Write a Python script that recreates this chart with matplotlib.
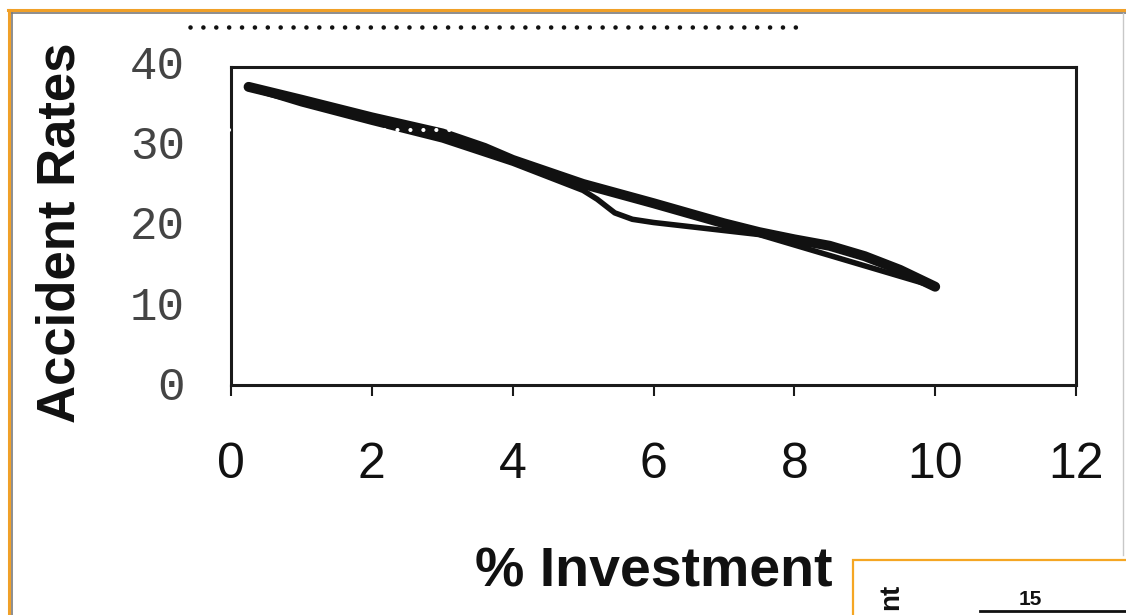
import matplotlib
matplotlib.use("Agg")
import matplotlib.pyplot as plt
from matplotlib.lines import Line2D
from matplotlib.patches import Rectangle

# values
invest_a = [0.25, 1.0, 2.0, 3.0, 3.6, 4.0, 5.0, 6.0, 7.0, 7.5, 8.0, 8.5, 9.0, 9.5, 10.0]
rates_a = [36.9, 35.3, 33.1, 31.1, 29.3, 27.8, 24.8, 22.4, 19.9, 18.8, 17.9, 17.1, 15.8, 14.1, 12.0]

invest_b = [0.25, 1.0, 2.0, 3.0, 4.0, 5.0, 5.2, 5.45, 5.7, 6.0, 6.8, 7.5, 8.0, 8.5, 9.0, 9.5, 10.0]
rates_b = [36.8, 34.8, 32.5, 30.3, 27.4, 24.0, 22.9, 21.2, 20.4, 20.0, 19.2, 18.5, 17.2, 15.9, 14.6, 13.3, 12.0]

x_ticks = [0, 2, 4, 6, 8, 10, 12]
y_ticks = [0, 10, 20, 30, 40]

W, H = 1126, 615
fig = plt.figure(figsize=(W / 100, H / 100), dpi=100)
fig.patch.set_facecolor("white")

ax = fig.add_axes([231 / W, (H - 385) / H, 845 / W, 323 / H])
ax.plot(invest_a, rates_a, color="#111111", lw=7.2, solid_capstyle="round", solid_joinstyle="round")
ax.plot(invest_b, rates_b, color="#111111", lw=4.0, solid_capstyle="round", solid_joinstyle="round")

ax.set_xlim(0, 12)
ax.set_ylim(-0.25, 40)
ax.set_xticks(x_ticks)
ax.set_yticks(y_ticks)

for side in ["left", "right", "top", "bottom"]:
    ax.spines[side].set_linewidth(2.2)
    ax.spines[side].set_color("#1a1a1a")
ax.spines["top"].set_position(("data", 39.4))
ax.spines["left"].set_bounds(-0.25, 39.4)
ax.spines["right"].set_bounds(-0.25, 39.4)

ax.tick_params(axis="x", direction="out", length=8, width=1.5, color="#1a1a1a", pad=33)
ax.tick_params(axis="y", length=0, pad=33)
for lab in ax.get_xticklabels():
    lab.set_fontfamily(["Liberation Sans Narrow", "Liberation Sans"])
    lab.set_fontsize(36)
    lab.set_color("#111111")
for lab in ax.get_yticklabels():
    lab.set_fontfamily(["Liberation Mono", "DejaVu Sans Mono"])
    lab.set_fontsize(33)
    lab.set_color("#444444")

ax.set_ylabel("Accident Rates", fontfamily="Liberation Sans", fontweight="bold", fontsize=38, color="#111111")
ax.yaxis.set_label_coords(-0.172, 0.47)
ax.set_xlabel("% Investment", fontfamily="Liberation Sans", fontweight="bold", fontsize=40, color="#111111")
ax.xaxis.set_label_coords(0.500, -0.50)

# slide frame around the picture
fig.add_artist(Line2D([8 / W, 1], [1 - 10 / H, 1 - 10 / H], color="#F0A028", lw=2.2))
fig.add_artist(Line2D([11 / W, 1], [1 - 13 / H, 1 - 13 / H], color="#7a7a7a", lw=1.2))
fig.add_artist(Line2D([9 / W, 9 / W], [0, 1 - 10 / H], color="#F0A028", lw=2.2))
fig.add_artist(Line2D([12 / W, 12 / W], [0, 1 - 13 / H], color="#7a7a7a", lw=1.2))
fig.add_artist(Line2D([1123 / W, 1123 / W], [1 - 555 / H, 1 - 13 / H], color="#c8c8c8", lw=1.0))

# dotted guide lines
fig.add_artist(Line2D([190 / W, 808 / W], [1 - 27 / H, 1 - 27 / H], color="#111111", lw=3.3,
                      linestyle=(0, (0.01, 2.8)), dash_capstyle="round", zorder=10))
fig.add_artist(Line2D([229 / W, 1078 / W], [1 - 130 / H, 1 - 130 / H], color="white", lw=3.0,
                      linestyle=(0, (0.01, 3.1)), dash_capstyle="round", zorder=10))

# overlapping panel in the lower right corner
fig.add_artist(Rectangle((853 / W, -0.05), 0.3, 0.05 + (H - 560) / H, transform=fig.transFigure,
                         facecolor="white", edgecolor="#F5A623", lw=1.6, zorder=5))
fig.text(891 / W, 1 - 584 / H, "nt", rotation=90, ha="center", va="top",
         fontfamily="Liberation Sans", fontweight="bold", fontsize=20, color="#111111", zorder=6)
fig.text(1030 / W, 1 - 590 / H, "15", ha="center", va="top",
         fontfamily="Liberation Sans", fontweight="bold", fontsize=15, color="#111111", zorder=6)
fig.add_artist(Line2D([980 / W, 1], [1 - 611 / H, 1 - 611 / H], color="#111111", lw=2.0, zorder=7))

fig.savefig("out.png", dpi=100)
